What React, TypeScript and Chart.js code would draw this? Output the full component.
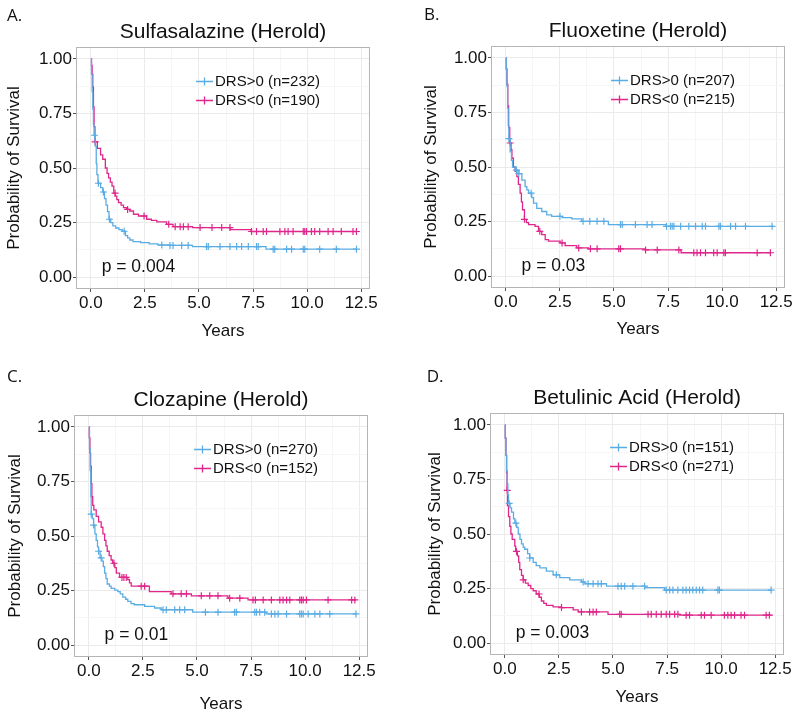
import React, { useEffect, useRef } from "react";
import { Chart, registerables } from "chart.js";

Chart.register(...registerables);

const FONT = '"Liberation Sans", Arial, Helvetica, sans-serif';
const LETTER_FONT = '"Open Sans", "Liberation Sans", sans-serif';

// ---- axes ----
const xTickValues = [0, 2.5, 5, 7.5, 10, 12.5];
const xTickLabels = ["0.0", "2.5", "5.0", "7.5", "10.0", "12.5"];
const xMinorValues = [1.25, 3.75, 6.25, 8.75, 11.25];
const yTickValues = [0, 0.25, 0.5, 0.75, 1];
const yTickLabels = ["0.00", "0.25", "0.50", "0.75", "1.00"];
const yMinorValues = [0.125, 0.375, 0.625, 0.875];
const xAxisTitle = "Years";
const yAxisTitle = "Probability of Survival";

// ---- groups ----
const groupNames = ["DRS>0", "DRS<0"];
const groupColors = ["#5aade4", "#e0268b"];

// ---- panels ----
const panelLetters = ["A.", "B.", "C.", "D."];
const panelTitles = [
  "Sulfasalazine (Herold)",
  "Fluoxetine (Herold)",
  "Clozapine (Herold)",
  "Betulinic Acid (Herold)",
];
const panelCounts = [
  [232, 190],
  [207, 215],
  [270, 152],
  [151, 271],
];
const pValues = ["p = 0.004", "p = 0.03", "p = 0.01", "p = 0.003"];
const pValueAt = [2.2, 0.045];

// ---- A: Sulfasalazine ----
const aPosTimes = [0, 0.03, 0.06, 0.09, 0.12, 0.15, 0.2, 0.25, 0.28, 0.33, 0.45, 0.55, 0.63, 0.7, 0.77, 0.84, 0.92, 1.02, 1.15, 1.3, 1.45, 1.6, 1.7, 1.8, 1.95, 2.3, 2.7, 3.1, 3.6, 4.7, 8.1, 12.3];
const aPosSurv = [1, 0.93, 0.85, 0.77, 0.7, 0.65, 0.6, 0.52, 0.47, 0.43, 0.41, 0.39, 0.36, 0.33, 0.3, 0.265, 0.25, 0.235, 0.225, 0.218, 0.21, 0.19, 0.18, 0.17, 0.163, 0.158, 0.152, 0.147, 0.145, 0.14, 0.128, 0.128];
const aPosCensor = [0.17, 0.35, 0.58, 0.86, 1.54, 3.28, 3.66, 3.8, 4.2, 4.5, 5.35, 5.43, 5.97, 6.43, 6.74, 6.97, 7.28, 7.66, 7.74, 8.43, 8.5, 9.05, 9.28, 9.82, 9.89, 10.58, 11.35, 12.28];
const aNegTimes = [0, 0.03, 0.06, 0.09, 0.12, 0.15, 0.19, 0.3, 0.45, 0.55, 0.67, 0.75, 0.82, 0.9, 0.98, 1.06, 1.13, 1.2, 1.28, 1.4, 1.51, 1.65, 1.8, 1.97, 2.2, 2.58, 2.8, 3.05, 3.5, 3.8, 4.7, 6.45, 7.4, 12.3];
const aNegSurv = [1, 0.97, 0.93, 0.87, 0.78, 0.69, 0.62, 0.59, 0.56, 0.54, 0.5, 0.475, 0.455, 0.435, 0.417, 0.385, 0.371, 0.355, 0.341, 0.33, 0.318, 0.31, 0.303, 0.288, 0.28, 0.265, 0.26, 0.253, 0.242, 0.231, 0.227, 0.218, 0.209, 0.209];
const aNegCensor = [0.2, 1.12, 1.7, 2.46, 3.6, 3.9, 4.13, 4.28, 4.5, 5.05, 5.6, 6.05, 6.43, 7.43, 7.66, 7.97, 8.12, 8.74, 8.97, 9.12, 9.35, 9.82, 9.89, 9.97, 10.2, 10.35, 10.58, 10.97, 11.2, 11.58, 12.12, 12.28];

// ---- B: Fluoxetine ----
const bPosTimes = [0, 0.02, 0.05, 0.08, 0.11, 0.14, 0.2, 0.26, 0.31, 0.43, 0.6, 0.74, 0.89, 0.97, 1.05, 1.2, 1.28, 1.43, 1.66, 1.89, 2.12, 2.6, 3.05, 3.51, 4.74, 7.4, 12.35];
const bPosSurv = [1, 0.95, 0.87, 0.77, 0.69, 0.63, 0.57, 0.53, 0.5, 0.486, 0.47, 0.44, 0.41, 0.395, 0.38, 0.36, 0.334, 0.31, 0.296, 0.281, 0.274, 0.268, 0.262, 0.251, 0.236, 0.228, 0.228];
const bPosCensor = [0.14, 0.49, 0.6, 1.17, 2.5, 3.57, 3.88, 4.22, 4.53, 5.3, 5.38, 5.99, 6.53, 6.76, 7.43, 7.61, 7.69, 7.77, 8.08, 8.46, 8.77, 9.08, 9.23, 9.85, 9.92, 10.39, 10.62, 11.08, 12.31];
const bNegTimes = [0, 0.02, 0.05, 0.09, 0.13, 0.18, 0.24, 0.28, 0.35, 0.43, 0.51, 0.58, 0.66, 0.72, 0.77, 0.86, 0.95, 1.05, 1.35, 1.51, 1.66, 1.82, 1.97, 2.51, 2.74, 3.28, 3.82, 6.45, 8.1, 12.25];
const bNegSurv = [1, 0.95, 0.88, 0.78, 0.68, 0.61, 0.58, 0.54, 0.5, 0.48, 0.456, 0.42, 0.38, 0.34, 0.304, 0.26, 0.245, 0.236, 0.228, 0.205, 0.19, 0.167, 0.16, 0.152, 0.14, 0.129, 0.125, 0.12, 0.107, 0.107];
const bNegCensor = [0.2, 0.86, 1.57, 2.6, 3.37, 3.91, 4.22, 5.22, 5.3, 6.46, 7.0, 8.0, 8.69, 8.84, 9.0, 9.23, 9.61, 9.77, 10.08, 10.15, 11.62, 12.23];

// ---- C: Clozapine ----
const cPosTimes = [0, 0.03, 0.06, 0.09, 0.11, 0.16, 0.22, 0.28, 0.34, 0.4, 0.45, 0.52, 0.6, 0.67, 0.73, 0.79, 0.85, 0.95, 1.03, 1.2, 1.34, 1.45, 1.57, 1.7, 1.8, 1.95, 2.1, 2.58, 3.04, 3.35, 4.8, 8.2, 12.38];
const cPosSurv = [1, 0.9, 0.8, 0.68, 0.6, 0.58, 0.55, 0.51, 0.48, 0.45, 0.43, 0.4, 0.385, 0.36, 0.33, 0.305, 0.28, 0.27, 0.26, 0.252, 0.245, 0.235, 0.22, 0.21, 0.2, 0.19, 0.185, 0.177, 0.17, 0.162, 0.151, 0.143, 0.143];
const cPosCensor = [0.11, 0.22, 0.45, 0.57, 3.43, 3.58, 3.97, 4.2, 4.43, 5.39, 5.97, 6.74, 6.82, 7.67, 7.75, 7.9, 8.13, 8.44, 8.6, 8.75, 9.14, 9.75, 9.83, 9.91, 10.14, 10.45, 10.68, 11.14, 12.35];
const cNegTimes = [0, 0.02, 0.05, 0.08, 0.11, 0.14, 0.18, 0.23, 0.34, 0.45, 0.57, 0.65, 0.73, 0.79, 0.85, 0.94, 1.03, 1.1, 1.2, 1.27, 1.42, 1.8, 1.88, 1.96, 2.8, 3.81, 4.74, 6.43, 7.36, 12.35];
const cNegSurv = [1, 0.95, 0.88, 0.82, 0.74, 0.68, 0.64, 0.62, 0.59, 0.565, 0.54, 0.51, 0.48, 0.455, 0.43, 0.41, 0.39, 0.375, 0.355, 0.33, 0.31, 0.3, 0.285, 0.27, 0.245, 0.235, 0.226, 0.215, 0.207, 0.207];
const cNegCensor = [1.16, 1.53, 1.62, 1.73, 2.42, 2.58, 3.89, 4.27, 4.51, 5.2, 5.59, 5.97, 6.51, 6.98, 7.59, 7.7, 8.06, 8.44, 8.83, 8.98, 9.14, 9.29, 9.75, 9.83, 9.91, 10.06, 11.06, 12.15, 12.3];

// ---- D: Betulinic Acid ----
const dPosTimes = [0, 0.02, 0.05, 0.08, 0.11, 0.14, 0.17, 0.24, 0.31, 0.4, 0.46, 0.55, 0.62, 0.7, 0.77, 0.85, 0.92, 1.05, 1.15, 1.31, 1.45, 1.62, 1.92, 2.23, 2.54, 3.0, 3.54, 3.7, 4.7, 6.47, 7.39, 12.32];
const dPosSurv = [1, 0.94, 0.86, 0.79, 0.73, 0.68, 0.64, 0.62, 0.6, 0.57, 0.55, 0.53, 0.5, 0.475, 0.455, 0.44, 0.43, 0.41, 0.39, 0.37, 0.355, 0.345, 0.33, 0.313, 0.3, 0.29, 0.28, 0.272, 0.261, 0.254, 0.243, 0.243];
const dPosCensor = [0.2, 0.51, 1.15, 2.38, 3.62, 3.85, 4.08, 4.31, 4.46, 5.23, 5.38, 5.54, 5.92, 6.46, 7.46, 7.62, 7.77, 8.0, 8.23, 8.38, 8.54, 8.69, 8.85, 9.0, 9.15, 9.85, 9.92, 12.31];
const dNegTimes = [0, 0.02, 0.05, 0.08, 0.1, 0.12, 0.17, 0.23, 0.28, 0.34, 0.46, 0.5, 0.58, 0.64, 0.69, 0.77, 0.85, 0.95, 1.08, 1.2, 1.31, 1.45, 1.59, 1.69, 1.8, 1.92, 2.23, 2.62, 3.16, 3.39, 4.77, 8.08, 12.32];
const dNegSurv = [1, 0.94, 0.86, 0.78, 0.7, 0.63, 0.58, 0.535, 0.5, 0.475, 0.444, 0.42, 0.4, 0.37, 0.337, 0.31, 0.29, 0.275, 0.264, 0.25, 0.24, 0.225, 0.21, 0.193, 0.182, 0.173, 0.166, 0.163, 0.152, 0.143, 0.132, 0.128, 0.128];
const dNegCensor = [0.11, 0.54, 0.85, 1.58, 2.62, 3.54, 3.92, 4.08, 4.23, 5.31, 5.38, 6.62, 6.77, 7.0, 7.23, 7.46, 7.62, 7.85, 8.0, 8.38, 8.54, 9.08, 9.23, 9.54, 10.15, 10.31, 10.46, 10.62, 10.92, 11.08, 12.08, 12.23];

type Group = { times: number[]; surv: number[]; censor: number[] };

const panelGroups: Group[][] = [
  [
    { times: aPosTimes, surv: aPosSurv, censor: aPosCensor },
    { times: aNegTimes, surv: aNegSurv, censor: aNegCensor },
  ],
  [
    { times: bPosTimes, surv: bPosSurv, censor: bPosCensor },
    { times: bNegTimes, surv: bNegSurv, censor: bNegCensor },
  ],
  [
    { times: cPosTimes, surv: cPosSurv, censor: cPosCensor },
    { times: cNegTimes, surv: cNegSurv, censor: cNegCensor },
  ],
  [
    { times: dPosTimes, surv: dPosSurv, censor: dPosCensor },
    { times: dNegTimes, surv: dNegSurv, censor: dNegCensor },
  ],
];

// ---- layout (positions / sizes only) ----
const CW = 400;
const CH = 359;
const LAYOUT = [
  { left: 0, top: 0, box: [77, 48, 369, 288], yTitleMid: 14, xTitleGap: 43, letter: [7, 21] },
  { left: 400, top: 0, box: [92, 47, 384, 287], yTitleMid: 31.5, xTitleGap: 42, letter: [24, 20] },
  { left: 0, top: 359, box: [75, 57, 367, 297], yTitleMid: 15.5, xTitleGap: 48, letter: [7, 22.7] },
  { left: 400, top: 359, box: [91, 55, 383, 295], yTitleMid: 35, xTitleGap: 43, letter: [26.7, 22.7] },
];

const MAJOR_GRID = "#ebebeb";
const MINOR_GRID = "#f6f6f6";
const TICK_MARK = "#555555";
const BOX = "#b5b5b5";
const TEXT = "#111111";

function survAt(times: number[], surv: number[], t: number) {
  let s = surv[0];
  for (let i = 0; i < times.length; i++) {
    if (times[i] <= t) s = surv[i];
    else break;
  }
  return s;
}

function idxOf(vals: number[], v: number) {
  for (let i = 0; i < vals.length; i++) if (Math.abs(vals[i] - v) < 1e-9) return i;
  return -1;
}

function Panel({ idx }: { idx: number }) {
  const ref = useRef<HTMLCanvasElement | null>(null);
  const L = LAYOUT[idx];

  useEffect(() => {
    if (!ref.current) return;
    const [bl, bt, br, bb] = L.box;
    const xAxisH = L.xTitleGap + 8.5;
    const groups = panelGroups[idx];

    const datasets: any[] = [];
    groups.forEach((g, gi) => {
      datasets.push({
        label: groupNames[gi],
        data: g.times.map((t, i) => ({ x: t, y: g.surv[i] })),
        showLine: true,
        stepped: true,
        borderColor: groupColors[gi],
        backgroundColor: groupColors[gi],
        borderWidth: 1.3,
        pointRadius: 0,
        pointHoverRadius: 0,
        fill: false,
      });
      datasets.push({
        label: groupNames[gi] + " censored",
        data: g.censor.map((t) => ({ x: t, y: survAt(g.times, g.surv, t) })),
        showLine: false,
        pointStyle: "cross",
        pointRadius: 3.5,
        pointHoverRadius: 3.5,
        pointBorderWidth: 1.2,
        borderColor: groupColors[gi],
        backgroundColor: groupColors[gi],
      });
    });

    const decor = {
      id: "panelDecor",
      afterDraw(chart: any) {
        const { ctx, chartArea: a, scales } = chart;
        ctx.save();
        // panel border
        ctx.strokeStyle = BOX;
        ctx.lineWidth = 1;
        ctx.strokeRect(a.left - 0.5, a.top - 0.5, a.right - a.left + 1, a.bottom - a.top + 1);
        // title
        ctx.fillStyle = TEXT;
        ctx.font = `21px ${FONT}`;
        ctx.textAlign = "center";
        ctx.textBaseline = "alphabetic";
        ctx.fillText(panelTitles[idx], (a.left + a.right) / 2, a.top - 10);
        // panel letter
        ctx.font = `17px ${LETTER_FONT}`;
        ctx.textAlign = "left";
        ctx.fillText(panelLetters[idx], L.letter[0], L.letter[1]);
        // legend
        ctx.font = `15px ${FONT}`;
        ctx.textBaseline = "middle";
        groups.forEach((_, gi) => {
          const y = a.top + 33.5 + gi * 19;
          const tx = a.left + 138;
          ctx.strokeStyle = groupColors[gi];
          ctx.lineWidth = 1.3;
          ctx.beginPath();
          ctx.moveTo(tx - 19, y);
          ctx.lineTo(tx - 2, y);
          const cx = tx - 10.5;
          ctx.moveTo(cx, y - 4);
          ctx.lineTo(cx, y + 4);
          ctx.stroke();
          ctx.fillStyle = TEXT;
          ctx.fillText(`${groupNames[gi]} (n=${panelCounts[idx][gi]})`, tx, y);
        });
        // p-value
        ctx.font = `17.5px ${FONT}`;
        ctx.textAlign = "center";
        ctx.textBaseline = "middle";
        ctx.fillText(
          pValues[idx],
          scales.x.getPixelForValue(pValueAt[0]),
          scales.y.getPixelForValue(pValueAt[1])
        );
        ctx.restore();
      },
    };

    const chart = new Chart(ref.current, {
      type: "scatter",
      data: { datasets },
      plugins: [decor],
      options: {
        responsive: false,
        animation: false,
        devicePixelRatio: 1,
        layout: {
          padding: { left: 0, top: bt, right: CW - br, bottom: CH - bb - xAxisH },
        },
        plugins: {
          legend: { display: false },
          tooltip: { enabled: false },
          title: { display: false },
        },
        scales: {
          x: {
            type: "linear",
            position: "bottom",
            min: -0.64,
            max: 12.86,
            afterBuildTicks: (axis: any) => {
              axis.ticks = [...xTickValues, ...xMinorValues]
                .sort((p, q) => p - q)
                .map((v) => ({ value: v }));
            },
            afterFit: (axis: any) => {
              axis.height = xAxisH;
            },
            ticks: {
              autoSkip: false,
              maxRotation: 0,
              minRotation: 0,
              padding: 1,
              color: TEXT,
              font: { family: FONT, size: 17 },
              callback: (v: any) => {
                const i = idxOf(xTickValues, Number(v));
                return i >= 0 ? xTickLabels[i] : "";
              },
            },
            grid: {
              color: (c: any) => (idxOf(xTickValues, c.tick.value) >= 0 ? MAJOR_GRID : MINOR_GRID),
              tickColor: (c: any) => (idxOf(xTickValues, c.tick.value) >= 0 ? TICK_MARK : "rgba(0,0,0,0)"),
              lineWidth: 1,
              tickLength: 4,
              drawTicks: true,
            },
            border: { display: false },
            title: {
              display: true,
              text: xAxisTitle,
              color: TEXT,
              font: { family: FONT, size: 17, lineHeight: 1 },
              padding: { top: 0, bottom: 0 },
            },
          },
          y: {
            type: "linear",
            position: "left",
            min: -0.05,
            max: 1.05,
            afterBuildTicks: (axis: any) => {
              axis.ticks = [...yTickValues, ...yMinorValues]
                .sort((p, q) => p - q)
                .map((v) => ({ value: v }));
            },
            afterFit: (axis: any) => {
              axis.width = bl;
            },
            ticks: {
              autoSkip: false,
              padding: 1,
              color: TEXT,
              font: { family: FONT, size: 17 },
              callback: (v: any) => {
                const i = idxOf(yTickValues, Number(v));
                return i >= 0 ? yTickLabels[i] : "";
              },
            },
            grid: {
              color: (c: any) => (idxOf(yTickValues, c.tick.value) >= 0 ? MAJOR_GRID : MINOR_GRID),
              tickColor: (c: any) => (idxOf(yTickValues, c.tick.value) >= 0 ? TICK_MARK : "rgba(0,0,0,0)"),
              lineWidth: 1,
              tickLength: 4,
              drawTicks: true,
            },
            border: { display: false },
            title: {
              display: true,
              text: yAxisTitle,
              color: TEXT,
              font: { family: FONT, size: 17, lineHeight: 1 },
              padding: { top: L.yTitleMid - 8.5, bottom: 0 },
            },
          },
        },
      } as any,
    });
    return () => chart.destroy();
  }, [idx]);

  return (
    <canvas
      ref={ref}
      width={CW}
      height={CH}
      style={{ position: "absolute", left: L.left, top: L.top, width: CW, height: CH }}
    />
  );
}

export default function App() {
  return (
    <div
      style={{
        position: "absolute",
        left: 0,
        top: 0,
        width: 800,
        height: 718,
        background: "#ffffff",
        overflow: "hidden",
      }}
    >
      {[0, 1, 2, 3].map((i) => (
        <Panel key={i} idx={i} />
      ))}
    </div>
  );
}
